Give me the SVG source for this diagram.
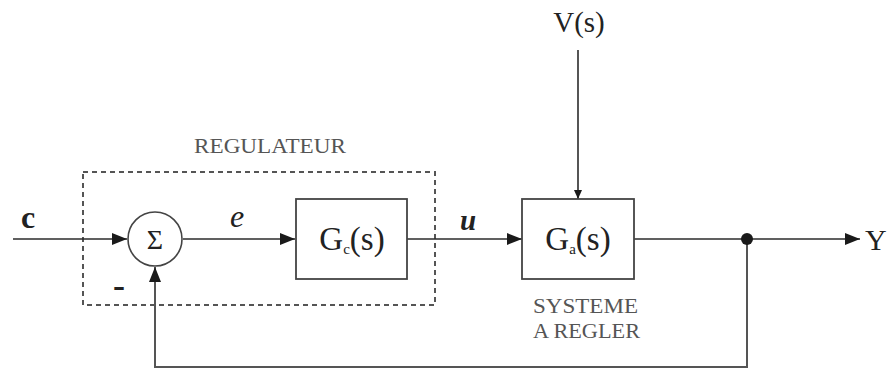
<svg xmlns="http://www.w3.org/2000/svg" width="891" height="372" viewBox="0 0 891 372">
  <style>
    .line { fill: none; stroke: #2b2b2b; stroke-width: 1.6; }
    .fb { fill: none; stroke: #555; stroke-width: 2; }
    .box { fill: #fff; stroke: #444; stroke-width: 1.8; }
    .serif { font-family: "Liberation Serif", "Times New Roman", serif; fill: #222; }
    .label { font-family: "Liberation Serif", "Times New Roman", serif; fill: #555; }
  </style>
  <defs>
    <marker id="arrow" markerWidth="16" markerHeight="12" refX="15" refY="6" orient="auto" markerUnits="userSpaceOnUse">
      <path d="M0,0 L15,6 L0,12 Z" fill="#1a1a1a"/>
    </marker>
    <marker id="arrowSmall" markerWidth="10" markerHeight="8" refX="9" refY="4" orient="auto" markerUnits="userSpaceOnUse">
      <path d="M0,0 L9,4 L0,8 Z" fill="#1a1a1a"/>
    </marker>
  </defs>

  <rect width="891" height="372" fill="#fff"/>

  <!-- regulator boundary -->
  <g id="regulateur">
    <rect x="83" y="172" width="352" height="133" fill="none" stroke="#555" stroke-width="2" stroke-dasharray="5,4"/>
    <text class="label" x="194" y="153" font-size="20" textLength="152" lengthAdjust="spacingAndGlyphs">REGULATEUR</text>
  </g>

  <!-- connectors -->
  <g id="connectors">
    <line class="line" x1="13" y1="239" x2="127" y2="239" marker-end="url(#arrow)"/>
    <line class="line" x1="183" y1="239" x2="295" y2="239" marker-end="url(#arrow)"/>
    <line class="line" x1="407" y1="239" x2="522" y2="239" marker-end="url(#arrow)"/>
    <line class="line" x1="578" y1="50" x2="578" y2="199" marker-end="url(#arrowSmall)"/>
    <line class="line" x1="634" y1="239" x2="860" y2="239" marker-end="url(#arrow)"/>
    <polyline class="fb" points="747,239 747,367 155,367 155,267" marker-end="url(#arrow)"/>
    <circle cx="747" cy="239" r="6" fill="#1a1a1a"/>
  </g>

  <!-- summing junction -->
  <g id="sum">
    <circle cx="155" cy="239" r="27" fill="#fff" stroke="#444" stroke-width="1.6"/>
    <text class="serif" x="155" y="249" font-size="28" text-anchor="middle">Σ</text>
  </g>

  <!-- controller -->
  <g id="gc">
    <rect class="box" x="296" y="199" width="111" height="80"/>
    <text class="serif" x="352" y="250" font-size="33" text-anchor="middle">G<tspan font-size="15" dy="4">c</tspan><tspan dy="-4">(s)</tspan></text>
  </g>

  <!-- plant -->
  <g id="ga">
    <rect class="box" x="522" y="199" width="112" height="80"/>
    <text class="serif" x="578" y="250" font-size="33" text-anchor="middle">G<tspan font-size="15" dy="4">a</tspan><tspan dy="-4">(s)</tspan></text>
    <text class="label" x="533" y="313" font-size="20" textLength="105" lengthAdjust="spacingAndGlyphs">SYSTEME</text>
    <text class="label" x="533" y="338" font-size="20" textLength="107" lengthAdjust="spacingAndGlyphs">A REGLER</text>
  </g>

  <!-- signal labels -->
  <g id="signals">
    <text class="serif" x="21" y="228" font-size="32" font-weight="bold">c</text>
    <text class="serif" x="230" y="227" font-size="32" font-style="italic">e</text>
    <text class="serif" x="460" y="230" font-size="29" font-style="italic" font-weight="bold">u</text>
    <text class="serif" x="113" y="297" font-size="36" font-weight="bold">-</text>
    <text class="serif" x="579" y="32" font-size="29" text-anchor="middle">V(s)</text>
    <text class="serif" x="865" y="250" font-size="30">Y</text>
  </g>
</svg>
